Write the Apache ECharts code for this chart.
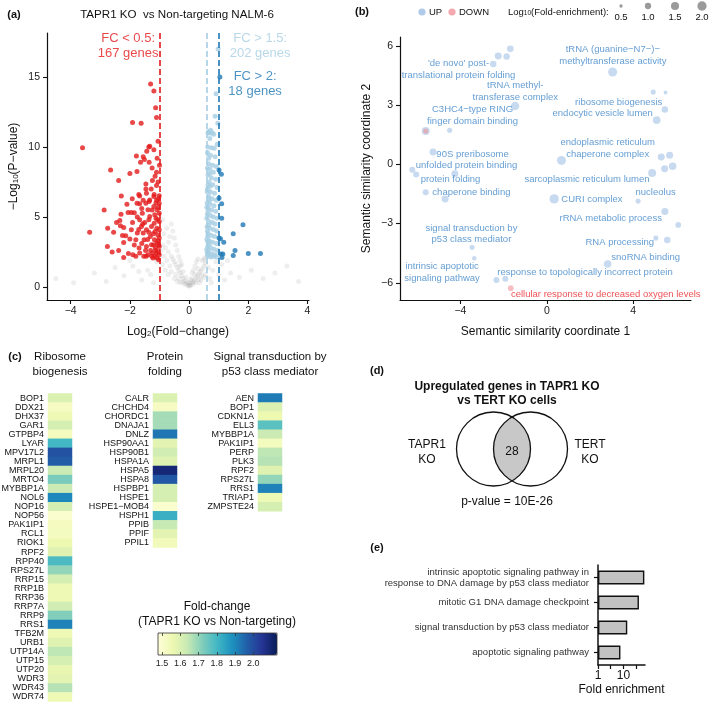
<!DOCTYPE html>
<html>
<head>
<meta charset="utf-8">
<script src="https://cdn.jsdelivr.net/npm/echarts/dist/echarts.min.js"></script>
<style>
html,body{margin:0;padding:0;background:#fff;}
#chart{width:709px;height:702px;}
</style>
</head>
<body>
<div id="chart"></div>
<script>
// ---------------- DATA ----------------
// (a) volcano: [log2FC, -log10 p]
const volcanoNotSig = [
[0,0.05],[0.05,0.15],[-0.05,0.12],[0.1,0.3],[-0.1,0.25],[0.15,0.4],[-0.15,0.45],[0.2,0.5],[-0.2,0.6],[0.25,0.7],
[-0.25,0.8],[0.3,0.85],[-0.3,1.0],[0.35,1.0],[-0.35,1.2],[0.4,1.15],[-0.4,1.4],[0.45,1.3],[-0.45,1.6],[0.5,1.5],
[-0.5,1.8],[0.55,1.7],[-0.55,2.0],[0,0.3],[0.1,0.6],[-0.1,0.7],[0.2,0.9],[-0.2,1.1],[0.3,1.3],[-0.3,1.5],
[0.05,0.5],[-0.6,2.2],[-0.7,2.5],[-0.8,2.8],[-0.9,3.0],[-0.65,1.5],[-0.75,1.9],[-0.85,2.2],[-0.95,2.6],[-0.6,1.1],
[-0.7,0.9],[-0.5,0.6],[-0.4,0.4],[-0.3,0.3],[-0.8,1.2],[-0.9,1.6],[0.4,0.5],[0.5,0.7],[0.55,0.9],[0.35,0.3],
[0.45,1.9],[0.5,2.0],[0.55,2.1],[-0.45,3.0],[-0.5,3.5],[-0.55,4.0],[-0.6,4.5],[-0.4,2.6],[-0.35,2.2],[-0.3,1.9],
[-0.25,1.6],[-0.65,3.6],[-0.7,3.2],[-0.75,4.2],[-0.85,3.8],[-0.9,4.8],[0.3,2.0],[0.25,1.8],[0.2,1.5],[0.15,1.2],
[0.1,1.0],[-4.5,0.6],[-3.9,0.3],[-3.2,1.0],[-2.8,0.4],[-2.5,1.4],[-2.2,0.8],[-1.9,1.5],[-1.6,0.5],[-1.4,1.2],
[-1.2,0.3],[-1.1,1.8],[-1.3,0.9],[-1.7,1.1],[-2.0,1.9],[1.2,0.5],[1.4,1.0],[1.7,0.7],[2.1,1.2],[2.5,0.6],
[2.9,1.0],[3.3,1.5],[3.7,0.4],[1.1,1.6],[1.3,1.9],[0.7,0.6],[0.8,1.2],[0.9,1.8],[0.75,0.3],[1.0,0.9],[0.65,1.4],
[-0.15,0.2],[0.12,0.2],[-0.05,0.35],[0.02,0.1],[-0.22,0.35],[0.22,0.3],[-0.35,0.6],[0.32,0.55],[-0.45,0.9],[0.42,0.8]
];
const volcanoDown = [
[-1.30,14.5],[-1.19,14.0],[-1.13,12.8],[-1.10,12.1],[-1.91,11.75],[-1.62,11.7],[-3.60,9.95],[-1.05,10.4],[-1.36,10.0],[-1.33,10.05],
[-1.43,9.7],[-1.19,9.8],[-1.78,9.35],[-1.55,9.3],[-1.35,8.9],[-1.64,8.9],[-1.51,9.1],[-2.65,8.35],[-1.76,8.25],[-2.0,8.1],
[-1.10,8.2],[-1.15,7.9],[-2.38,7.6],[-1.24,7.6],[-1.46,7.35],[-1.10,7.25],[-1.46,7.0],[-1.67,6.5],[-2.29,6.5],[-2.87,5.5],
[-3.36,3.9],[-2.76,2.9],[-2.34,4.75],[-2.32,4.37],[-2.21,4.25],[-2.25,3.68],[-2.14,3.66],[-2.21,3.18],[-2.38,2.61],[-2.21,2.11],
[-2.06,5.32],[-1.95,5.32],[-1.91,4.61],[-2.0,3.42],[-1.95,4.09],[-1.69,2.78],[-1.80,3.37],[-1.75,3.85],[-1.67,5.94],[-1.76,5.98],
[-1.58,5.27],[-1.46,5.98],[-1.67,4.80],[-1.61,4.32],[-1.55,3.85],[-1.67,2.42],[-1.53,2.19],[-1.44,2.90],[-1.39,2.30],[-1.52,3.37],
[-1.44,4.09],[-1.36,4.80],[-1.39,5.51],[-1.33,6.22],[-1.44,6.70],[-1.33,5.04],[-1.27,4.32],[-1.31,3.61],[-1.27,3.02],[-1.24,2.42],
[-1.22,2.07],[-1.19,6.46],[-1.19,5.75],[-1.16,5.15],[-1.18,4.56],[-1.15,3.97],[-1.17,3.37],[-1.14,2.78],[-1.16,2.19],[-1.10,6.22],
[-1.08,5.51],[-1.06,4.80],[-1.09,4.20],[-1.06,3.73],[-1.09,3.14],[-1.06,2.54],[-1.08,2.07],[-1.01,6.51],[-1.01,5.98],[-1.01,5.27],
[-1.01,4.68],[-1.01,4.09],[-1.01,3.49],[-1.01,2.90],[-1.01,2.30],[-1.03,1.95],[-1.5,4.6],[-1.6,3.1],[-1.7,4.1],[-1.85,5.3],
[-1.85,3.0],[-1.9,2.3],[-1.3,2.6],[-1.4,3.4],[-1.25,5.5],[-1.12,6.0],[-1.2,3.0],[-1.05,3.3],[-1.1,2.4],[-1.35,6.1],
[-1.55,6.2],[-1.6,5.6],[-1.75,5.0],[-1.45,2.2],[-1.8,2.2],[-2.05,2.4],[-2.6,2.5],[-2.45,4.6],[-2.55,3.9],[-2.75,4.2],
[-2.1,5.9],[-2.3,5.2],[-1.92,6.3],[-1.7,6.6],[-1.28,7.0],[-1.05,7.5],[-1.18,6.6],[-1.0,8.7],[-1.08,9.2],[-1.25,8.5],
[-1.04,5.7],[-1.12,4.9],[-1.21,3.8],[-1.03,3.0],[-1.13,2.6],[-1.26,2.2],[-1.36,3.9],[-1.47,2.6],[-1.57,4.5],[-1.03,6.3]
];
const volcanoUp15 = [
[0.98,17.0],[0.91,13.8],[0.88,12.2],[0.97,11.7],[0.66,11.1],[0.73,11.2],[0.78,11.0],[0.83,10.9],[0.70,10.6],[0.95,10.2],
[0.75,9.95],[0.85,9.9],[0.62,9.6],[0.72,9.4],[0.88,9.3],[0.66,8.8],[0.79,8.7],[0.92,8.6],[0.70,8.4],[0.82,8.2],
[0.64,8.0],[0.75,7.8],[0.90,7.7],[0.68,7.5],[0.80,7.3],[0.95,7.1],[0.62,7.0],[0.72,6.8],[0.86,6.7],[0.66,6.5],
[0.78,6.3],[0.92,6.2],[0.61,6.0],[0.70,5.9],[0.84,5.8],[0.65,5.6],[0.76,5.5],[0.90,5.4],[0.62,5.2],[0.72,5.1],
[0.82,5.0],[0.95,4.9],[0.66,4.7],[0.78,4.6],[0.88,4.5],[0.61,4.3],[0.70,4.2],[0.82,4.1],[0.93,4.0],[0.64,3.8],
[0.74,3.7],[0.86,3.6],[0.60,3.4],[0.68,3.3],[0.79,3.2],[0.92,3.1],[0.63,2.9],[0.73,2.8],[0.84,2.7],[0.96,2.6],
[0.61,2.5],[0.69,2.4],[0.78,2.35],[0.88,2.3],[0.64,2.2],[0.74,2.15],[0.83,2.2],[0.93,2.15],[0.60,5.7],[0.62,4.0],
[0.60,2.7],[0.62,8.5],[0.63,10.0],[0.61,6.8],[0.67,3.0],[0.71,7.2],[0.63,3.6],[0.60,4.9],[0.68,6.1],[0.66,2.6],
[0.64,11.0],[0.70,11.0],[0.66,9.2],[0.69,8.1],[0.64,7.3],[0.67,6.3],[0.64,5.4],[0.66,4.4],[0.64,3.2],[0.62,2.3]
];
const volcanoUp2 = [
[1.04,15.0],[1.01,8.35],[1.09,8.05],[1.01,6.35],[1.10,5.95],[1.10,4.9],[1.82,4.45],[1.49,3.8],[1.01,3.5],
[1.06,3.45],[1.17,3.2],[1.55,2.6],[1.49,2.25],[2.0,2.4],[2.41,2.4],[1.08,2.35],[1.14,2.35],[1.11,2.1]
];
const volcanoThresholds = [-1, 0.585, 1];
const volcanoNotes = [
  {value: [-2.06, 17.25], name: 'FC < 0.5:\n167 genes'},
  {value: [2.40, 17.25], name: 'FC > 1.5:\n202 genes'},
  {value: [2.23, 14.5], name: 'FC > 2:\n18 genes'}
];

// (b) semantic similarity: [coord1, coord2, log10(fold-enrichment)]
const semUp = [
[-1.69,5.85,1.1],[-2.25,5.49,1.2],[-1.86,5.46,1.05],[-2.48,5.08,1.05],[3.05,4.68,1.9],[-1.47,2.95,1.7],
[4.93,3.66,0.8],[5.50,3.64,0.6],[5.47,2.78,1.05],[5.09,2.24,1.4],[-5.61,1.69,1.5],[-4.50,1.73,0.8],
[-5.27,0.63,1.2],[-6.23,-0.27,0.95],[-6.05,-0.51,0.95],[-4.26,-0.47,1.2],[-5.61,-1.41,0.95],[-4.71,-1.75,1.2],
[0.68,0.2,1.9],[0.34,-1.75,2.0],[5.30,0.37,1.2],[5.69,0.46,1.2],[4.88,-0.44,1.5],[5.46,-0.22,1.2],
[5.83,-0.1,1.35],[4.23,-1.86,0.8],[5.47,-2.39,1.2],[6.09,-3.07,0.9],[5.05,-3.73,0.8],[5.58,-3.83,1.05],
[2.82,-5.05,1.35],[-3.46,-4.2,0.8],[-3.36,-4.76,0.7],[-2.33,-5.86,0.95],[-1.92,-5.8,0.95]
];
const semDown = [[-5.61,1.69,0.8],[-1.67,-6.27,0.9]];
const semLabels = [
  [-4.09,4.80,"'de novo' post-\ntranslational protein folding"],
  [-1.46,3.69,'tRNA methyl-\ntransferase complex'],
  [-3.44,2.49,'C3HC4\u2212type RING\nfinger domain binding'],
  [3.06,5.52,'tRNA (guanine\u2212N7\u2212)\u2212\nmethyltransferase activity'],
  [3.33,3.15,'ribosome biogenesis'],
  [2.59,2.59,'endocytic vesicle lumen'],
  [2.82,0.81,'endoplasmic reticulum\nchaperone complex'],
  [-3.44,0.51,'90S preribosome'],
  [-3.72,-0.05,'unfolded protein binding'],
  [-4.46,-0.76,'protein folding'],
  [-3.49,-1.42,'chaperone binding'],
  [1.86,-0.76,'sarcoplasmic reticulum lumen'],
  [5.04,-1.42,'nucleolus'],
  [2.09,-1.78,'CURI complex'],
  [2.96,-2.75,'rRNA metabolic process'],
  [-3.49,-3.53,'signal transduction by\np53 class mediator'],
  [3.38,-3.97,'RNA processing'],
  [4.58,-4.73,'snoRNA binding'],
  [-4.85,-5.47,'intrinsic apoptotic\nsignaling pathway'],
  [1.77,-5.49,'response to topologically incorrect protein']
];
const semDownLabels = [[2.73,-6.56,'cellular response to decreased oxygen levels']];
const semSizeLegend = ['0.5','1.0','1.5','2.0'];

// (c) heatmaps: fold-change
const ribosomeGenes = ['BOP1','DDX21','DHX37','GAR1','GTPBP4','LYAR','MPV17L2','MRPL1','MRPL20','MRTO4','MYBBP1A','NOL6','NOP16','NOP56','PAK1IP1','RCL1','RIOK1','RPF2','RPP40','RPS27L','RRP15','RRP1B','RRP36','RRP7A','RRP9','RRS1','TFB2M','URB1','UTP14A','UTP15','UTP20','WDR3','WDR43','WDR74'];
const ribosomeFC = [1.60,1.52,1.55,1.61,1.53,1.80,1.99,1.97,1.63,1.73,1.63,1.90,1.61,1.50,1.53,1.53,1.56,1.59,1.79,1.70,1.61,1.55,1.55,1.62,1.72,1.91,1.55,1.59,1.65,1.61,1.57,1.58,1.66,1.55];
const foldingGenes = ['CALR','CHCHD4','CHORDC1','DNAJA1','DNLZ','HSP90AA1','HSP90B1','HSPA1A','HSPA5','HSPA8','HSPBP1','HSPE1','HSPE1\u2212MOB4','HSPH1','PPIB','PPIF','PPIL1'];
const foldingFC = [1.60,1.52,1.68,1.68,1.93,1.58,1.62,1.59,2.09,1.98,1.61,1.61,1.50,1.82,1.64,1.58,1.54];
const p53Genes = ['AEN','BOP1','CDKN1A','ELL3','MYBBP1A','PAK1IP1','PERP','PLK3','RPF2','RPS27L','RRS1','TRIAP1','ZMPSTE24'];
const p53FC = [1.92,1.60,1.56,1.77,1.63,1.53,1.65,1.66,1.59,1.70,1.91,1.55,1.61];
const fcTicks = [1.5,1.6,1.7,1.8,1.9,2.0];
const fcRange = [1.478, 2.13];

// (d) venn
const vennLabels = ['TAPR1\nKO','TERT\nKO'];
const vennOverlap = [28];

// (e) fold enrichment
const feCategories = ['intrinsic apoptotic signaling pathway in\nresponse to DNA damage by p53 class mediator','mitotic G1 DNA damage checkpoint','signal transduction by p53 class mediator','apoptotic signaling pathway'];
const feValues = [66, 40.5, 14.1, 7.6];

// ---------------- STYLE ----------------
const FONT = '"Liberation Sans", Arial, Helvetica, sans-serif';
const RED = '#e31a1c', LBLUE = '#a6cee3', DBLUE = '#1f78b4';
const LABBLUE = '#3f86c8';
const YLGNBU = ['#ffffd9','#edf8b1','#c7e9b4','#7fcdbb','#41b6c4','#1d91c0','#225ea8','#253494','#081d58'];
const axisCol = '#111';

function valAxis(grid, min, max, ticks, extra) {
  return Object.assign({
    type: 'value', gridIndex: grid, min: min, max: max,
    axisLine: {show: true, onZero: false, lineStyle: {color: axisCol, width: 1.2}},
    axisTick: {show: true, length: 4, lineStyle: {color: axisCol, width: 1.1}, customValues: ticks},
    axisLabel: {customValues: ticks, fontSize: 10.5, color: '#1a1a1a', fontFamily: FONT,
      formatter: v => (v < 0 ? '\u2212' + Math.abs(v) : String(v))},
    splitLine: {show: false},
    nameTextStyle: {fontSize: 12, color: '#111', fontFamily: FONT,
      rich: {s: {fontSize: 8, lineHeight: 8, verticalAlign: 'bottom', fontFamily: FONT, color: '#111'}}}
  }, extra || {});
}

function heatGrid(left, top, n) { return {left: left, top: top, width: 24, height: n * 9.06, outerBoundsMode: 'none'}; }
function heatX(g) { return {type: 'category', gridIndex: g, data: [''], show: false}; }
function heatY(g, genes) {
  return {type: 'category', gridIndex: g, data: genes, inverse: true,
    axisLine: {show: false}, axisTick: {show: false},
    axisLabel: {interval: 0, fontSize: 9, color: '#111', fontFamily: FONT, margin: 4}};
}
function heatSeries(idx, fc) {
  return {type: 'heatmap', xAxisIndex: idx, yAxisIndex: idx, data: fc.map((v, i) => [0, i, v]),
    itemStyle: {borderWidth: 0}, emphasis: {disabled: true}};
}

const semSizes = [[0.5,3.3],[1.0,6.3],[1.5,8.0],[2.0,9.3]];
function semSize(v) {
  if (v <= semSizes[0][0]) return semSizes[0][1];
  for (let i = 1; i < semSizes.length; i++) {
    if (v <= semSizes[i][0]) {
      const a = semSizes[i-1], b = semSizes[i];
      return a[1] + (b[1] - a[1]) * (v - a[0]) / (b[0] - a[0]);
    }
  }
  return semSizes[semSizes.length-1][1];
}

function thresholdLine(x, color) {
  return {silent: true, symbol: 'none', animation: false,
    label: {show: false},
    lineStyle: {color: color, type: [6, 3], width: 1.6},
    data: [{xAxis: x}]};
}

const chart = echarts.init(document.getElementById('chart'), null, {renderer: 'canvas'});

// venn geometry
const vR = 37, vC1 = [493.5, 449], vC2 = [530.5, 449];
const vHalf = (vC2[0] - vC1[0]) / 2, vH = Math.sqrt(vR * vR - vHalf * vHalf);
const vA = Math.asin(vH / vR);
const lensPts = [];
for (let i = 0; i <= 40; i++) { // arc of left circle (right side)
  const t = -vA + 2 * vA * i / 40;
  lensPts.push([vC1[0] + vR * Math.cos(t), vC1[1] + vR * Math.sin(t)]);
}
for (let i = 0; i <= 40; i++) { // arc of right circle (left side)
  const t = Math.PI - vA + 2 * vA * i / 40;
  lensPts.push([vC2[0] + vR * Math.cos(t), vC2[1] + vR * Math.sin(t)]);
}

const legendX = [621, 648, 675, 702];

function txt(x, y, text, size, opts) {
  return {type: 'text', x: x, y: y, silent: true, z: 20,
    style: Object.assign({text: text, fontSize: size, fontFamily: FONT, fill: '#111',
      align: 'center', verticalAlign: 'middle'}, opts || {})};
}

const graphics = [
  txt(14, 15, '(a)', 11, {fontWeight: 'bold'}),
  txt(177, 15, 'TAPR1 KO  vs Non-targeting NALM-6', 11.6),
  txt(362, 12, '(b)', 11, {fontWeight: 'bold'}),
  {type: 'circle', shape: {cx: 422, cy: 12, r: 3.6}, style: {fill: 'rgba(150,185,225,0.75)'}, silent: true},
  txt(429, 12, 'UP', 9.5, {align: 'left'}),
  {type: 'circle', shape: {cx: 452, cy: 12, r: 3.6}, style: {fill: 'rgba(240,140,150,0.75)'}, silent: true},
  txt(459, 12, 'DOWN', 9.5, {align: 'left'}),
  txt(508, 12, 'Log{s|10}(Fold-enrichment):', 9.5, {align: 'left',
    rich: {s: {fontSize: 6.5, lineHeight: 6, verticalAlign: 'bottom', fontFamily: FONT, fill: '#111'}}}),
  txt(15, 357, '(c)', 11, {fontWeight: 'bold'}),
  txt(60, 357, 'Ribosome', 11.5), txt(60, 372, 'biogenesis', 11.5),
  txt(165, 357, 'Protein', 11.5), txt(165, 372, 'folding', 11.5),
  txt(270, 357, 'Signal transduction by', 11.5), txt(270, 372, 'p53 class mediator', 11.5),
  txt(217, 607, 'Fold-change', 12), txt(217, 622, '(TAPR1 KO vs Non-targeting)', 12),
  txt(377, 371, '(d)', 11, {fontWeight: 'bold'}),
  txt(507, 387, 'Upregulated genes in TAPR1 KO', 12, {fontWeight: 'bold'}),
  txt(507, 401, 'vs TERT KO cells', 12, {fontWeight: 'bold'}),
  {type: 'polygon', shape: {points: lensPts}, style: {fill: '#c8c8c8'}, silent: true, z: 18},
  {type: 'circle', shape: {cx: vC1[0], cy: vC1[1], r: vR}, style: {fill: 'none', stroke: '#111', lineWidth: 1.3}, silent: true, z: 19},
  {type: 'circle', shape: {cx: vC2[0], cy: vC2[1], r: vR}, style: {fill: 'none', stroke: '#111', lineWidth: 1.3}, silent: true, z: 19},
  txt(427, 452, vennLabels[0], 12, {lineHeight: 15}),
  txt(590, 452, vennLabels[1], 12, {lineHeight: 15}),
  txt(512, 452, String(vennOverlap[0]), 12),
  txt(507, 502, 'p-value = 10E-26', 12),
  txt(377, 548, '(e)', 11, {fontWeight: 'bold'})
];
semSizeLegend.forEach((lab, i) => {
  graphics.push({type: 'circle', shape: {cx: legendX[i], cy: 6, r: semSize(parseFloat(lab)) / 2},
    style: {fill: '#9a9a9a'}, silent: true});
  graphics.push(txt(legendX[i], 17.5, lab, 9.5));
});

const option = {
  animation: false,
  backgroundColor: '#fff',
  textStyle: {fontFamily: FONT},
  grid: [
    {left: 47, top: 33, width: 262, height: 267, outerBoundsMode: 'none'},
    {left: 400, top: 37, width: 291, height: 263, outerBoundsMode: 'none'},
    heatGrid(48, 393.5, ribosomeGenes.length),
    heatGrid(153, 393.5, foldingGenes.length),
    heatGrid(258, 393.5, p53Genes.length),
    {left: 158, top: 633, width: 119, height: 22, show: true, backgroundColor: 'transparent',
      borderColor: '#333', borderWidth: 0.8, z: 10, outerBoundsMode: 'none'},
    {left: 598, top: 565, width: 47, height: 100, outerBoundsMode: 'none'}
  ],
  xAxis: [
    valAxis(0, -4.8, 4.05, [-4,-2,0,2,4], {name: 'Log{s|2}(Fold\u2212change)', nameLocation: 'middle', nameGap: 26,
      axisLabel: {customValues: [-4,-2,0,2,4], fontSize: 10.5, color: '#1a1a1a', fontFamily: FONT, margin: 6,
        formatter: v => (v < 0 ? '\u2212' + Math.abs(v) : String(v))}}),
    valAxis(1, -6.8, 6.68, [-4,0,4], {name: 'Semantic similarity coordinate 1', nameLocation: 'middle', nameGap: 26,
      axisLabel: {customValues: [-4,0,4], fontSize: 10.5, color: '#1a1a1a', fontFamily: FONT, margin: 6,
        formatter: v => (v < 0 ? '\u2212' + Math.abs(v) : String(v))}}),
    heatX(2), heatX(3), heatX(4),
    {type: 'value', gridIndex: 5, min: fcRange[0], max: fcRange[1], position: 'bottom', z: 11,
      axisLine: {show: false}, splitLine: {show: false},
      axisTick: {show: true, inside: true, length: 3, customValues: fcTicks, lineStyle: {color: '#333', width: 0.8}},
      axisLabel: {customValues: fcTicks, fontSize: 9, color: '#222', margin: 4, fontFamily: FONT,
        formatter: v => v.toFixed(1)}},
    {type: 'value', gridIndex: 5, min: fcRange[0], max: fcRange[1], position: 'top', z: 11,
      axisLine: {show: false}, splitLine: {show: false},
      axisTick: {show: true, inside: true, length: 3, customValues: fcTicks, lineStyle: {color: '#333', width: 0.8}},
      axisLabel: {show: false}},
    {type: 'log', gridIndex: 6, logBase: Math.sqrt(10), min: 1, max: 70, splitNumber: 4,
      name: 'Fold enrichment', nameLocation: 'middle', nameGap: 19,
      nameTextStyle: {fontSize: 12, color: '#111', fontFamily: FONT},
      axisLine: {show: true, lineStyle: {color: axisCol, width: 1.5}},
      axisTick: {show: true, length: 4, lineStyle: {color: axisCol, width: 1.2}},
      axisLabel: {fontSize: 12, color: '#111', margin: 5, fontFamily: FONT, showMaxLabel: false,
        formatter: v => (Math.abs(v - 1) < 1e-6 ? '1' : (Math.abs(v - 10) < 1e-6 ? '10' : ''))},
      splitLine: {show: false}, minorTick: {show: false}}
  ],
  yAxis: [
    valAxis(0, -0.93, 18.14, [0,5,10,15], {name: '\u2212Log{s|10}(P\u2212value)', nameLocation: 'middle', nameGap: 27,
      axisLabel: {customValues: [0,5,10,15], fontSize: 10.5, color: '#1a1a1a', fontFamily: FONT, margin: 7}}),
    valAxis(1, -6.87, 6.45, [-6,-3,0,3,6], {name: 'Semantic similarity coordinate 2', nameLocation: 'middle', nameGap: 27,
      axisLabel: {customValues: [-6,-3,0,3,6], fontSize: 10.5, color: '#1a1a1a', fontFamily: FONT, margin: 7,
        formatter: v => (v < 0 ? '\u2212' + Math.abs(v) : String(v))}}),
    heatY(2, ribosomeGenes), heatY(3, foldingGenes), heatY(4, p53Genes),
    {type: 'value', gridIndex: 5, min: 0, max: 1, show: false},
    {type: 'category', gridIndex: 6, data: feCategories, inverse: true,
      axisLine: {show: true, lineStyle: {color: axisCol, width: 1.5}},
      axisTick: {show: true, length: 4, alignWithLabel: true, lineStyle: {color: axisCol, width: 1.2}},
      axisLabel: {interval: 0, fontSize: 9.5, color: '#333', margin: 9, lineHeight: 11, fontFamily: FONT, align: 'right'}}
  ],
  visualMap: {
    type: 'continuous', seriesIndex: [9, 10, 11], min: fcRange[0], max: fcRange[1],
    orient: 'horizontal', left: 158, top: 633, itemWidth: 22, itemHeight: 119, padding: 0,
    calculable: false, realtime: false, text: null, showLabel: false, hoverLink: false,
    inRange: {color: YLGNBU}, textStyle: {fontSize: 1, color: 'transparent'}
  },
  graphic: {elements: graphics},
  series: [
    {type: 'scatter', xAxisIndex: 0, yAxisIndex: 0, data: volcanoNotSig, symbolSize: 5,
      itemStyle: {color: 'rgba(150,150,150,0.2)'}, silent: true, z: 1},
    {type: 'scatter', xAxisIndex: 0, yAxisIndex: 0, data: volcanoDown, symbolSize: 5,
      itemStyle: {color: RED}, silent: true, z: 2, markLine: thresholdLine(volcanoThresholds[0], RED)},
    {type: 'scatter', xAxisIndex: 0, yAxisIndex: 0, data: volcanoUp15, symbolSize: 5,
      itemStyle: {color: LBLUE}, silent: true, z: 2, markLine: thresholdLine(volcanoThresholds[1], LBLUE)},
    {type: 'scatter', xAxisIndex: 0, yAxisIndex: 0, data: volcanoUp2, symbolSize: 5,
      itemStyle: {color: DBLUE}, silent: true, z: 3, markLine: thresholdLine(volcanoThresholds[2], DBLUE)},
    {type: 'scatter', xAxisIndex: 0, yAxisIndex: 0, symbolSize: 0, silent: true, z: 5,
      data: volcanoNotes.map((d, i) => ({value: d.value, name: d.name,
        label: {color: [RED, LBLUE, DBLUE][i]}})),
      label: {show: true, position: 'inside', formatter: '{b}', fontSize: 13, lineHeight: 15,
        fontFamily: FONT, align: 'center', verticalAlign: 'middle'}},
    {type: 'scatter', xAxisIndex: 1, yAxisIndex: 1, data: semUp, symbolSize: d => semSize(d[2]),
      itemStyle: {color: 'rgba(150,185,225,0.65)'}, silent: true, z: 2},
    {type: 'scatter', xAxisIndex: 1, yAxisIndex: 1, data: semDown, symbolSize: d => semSize(d[2]),
      itemStyle: {color: 'rgba(240,140,150,0.7)'}, silent: true, z: 3},
    {type: 'scatter', xAxisIndex: 1, yAxisIndex: 1, symbolSize: 0, silent: true, z: 5,
      data: semLabels.map(d => ({value: [d[0], d[1]], name: d[2]})),
      label: {show: true, position: 'inside', formatter: '{b}', fontSize: 9.5, lineHeight: 11.5,
        color: LABBLUE, fontFamily: FONT, align: 'center', verticalAlign: 'middle'}},
    {type: 'scatter', xAxisIndex: 1, yAxisIndex: 1, symbolSize: 0, silent: true, z: 5,
      data: semDownLabels.map(d => ({value: [d[0], d[1]], name: d[2]})),
      label: {show: true, position: 'inside', formatter: '{b}', fontSize: 9.5, lineHeight: 11.5,
        color: '#e8242b', fontFamily: FONT, align: 'center', verticalAlign: 'middle'}},
    heatSeries(2, ribosomeFC), heatSeries(3, foldingFC), heatSeries(4, p53FC),
    {type: 'bar', xAxisIndex: 7, yAxisIndex: 6, data: feValues, barWidth: 14, silent: true,
      itemStyle: {color: '#c2c2c2', borderColor: '#111', borderWidth: 1.4}}
  ]
};
chart.setOption(option);
</script>
</body>
</html>
